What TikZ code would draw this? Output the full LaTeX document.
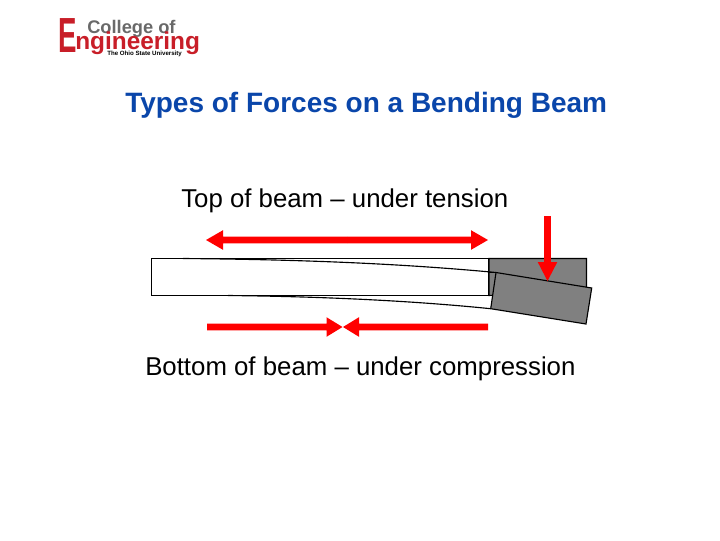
\documentclass[tikz,border=0pt]{standalone}
\usepackage{graphicx}
\usepackage{fontspec}
\setmainfont{Liberation Sans}
\definecolor{titleblue}{RGB}{10,70,170}
\definecolor{logored}{RGB}{200,30,40}
\definecolor{loggray}{RGB}{105,105,105}
\definecolor{blockgray}{RGB}{128,128,128}
\tikzset{
  beamline/.style={draw=black,line width=0.85pt},
  bodytext/.style={inner sep=0pt,anchor=base west,text=black,font=\fontsize{19.35pt}{22pt}\selectfont},
  logotext/.style={inner sep=0pt,anchor=base west,font=\bfseries},
}
% x, y of the start, length, rotation, head length
\newcommand{\forcearrow}[5]{%
  \begin{scope}[shift={(#1,#2)},rotate=#4]
    \fill[red] (0,-3.4) -- (#3-#5,-3.4) -- (#3-#5,-9.8) -- (#3,0) -- (#3-#5,9.8) -- (#3-#5,3.4) -- (0,3.4) -- cycle;
  \end{scope}}
\begin{document}
\begin{tikzpicture}[x=0.75pt,y=-0.75pt]
\useasboundingbox (0,0) rectangle (720,540);
% logo
\node[logotext,text=logored,font=\bfseries\fontsize{37pt}{37pt}\selectfont] (logoE) at (58,52) {\scalebox{0.56}[1]{E}};
\node[logotext,text=loggray,font=\bfseries\fontsize{13.7pt}{14pt}\selectfont] (logoC) at (87,33) {College of};
\node[logotext,text=logored,font=\bfseries\fontsize{18.3pt}{19pt}\selectfont] (logoN) at (75,49) {ngineering};
\node[logotext,text=black,font=\bfseries\fontsize{4.6pt}{5pt}\selectfont] (logoS) at (107,55) {The Ohio State University};
% text
\node[inner sep=0pt,anchor=base west,text=titleblue,font=\bfseries\fontsize{21pt}{24pt}\selectfont] (title) at (125,112) {Types of Forces on a Bending Beam};
\node[bodytext] (top) at (181,207) {Top of beam -- under tension};
\node[bodytext] (bot) at (145,375) {Bottom of beam -- under compression};
% gray blocks
\draw[beamline] (151.5,258.5) rectangle (489,295.5);
\draw[beamline,fill=blockgray] (489,258.5) -- (586.5,258.5) -- (586.5,290) -- (489,295.5) -- cycle;
\draw[beamline,fill=blockgray] (496,272.5) -- (591.7,288) -- (586,324) -- (490.7,308.7) -- cycle;
\draw[beamline] (489,272.5) -- (496,272.5);
% bent beam edges
\draw[beamline] (183,258.5) .. controls (300,259.5) and (400,263.5) .. (496,272.5);
\draw[beamline] (228,295.5) .. controls (320,296.5) and (410,300.5) .. (490.7,308.7);
% arrows
\forcearrow{347}{240}{141}{0}{17}
\forcearrow{347}{240}{141}{180}{17}
\forcearrow{547.5}{216}{65}{-90}{19}
\forcearrow{207}{327}{135.5}{0}{16}
\forcearrow{488}{327}{145}{180}{16}
\end{tikzpicture}
\end{document}
